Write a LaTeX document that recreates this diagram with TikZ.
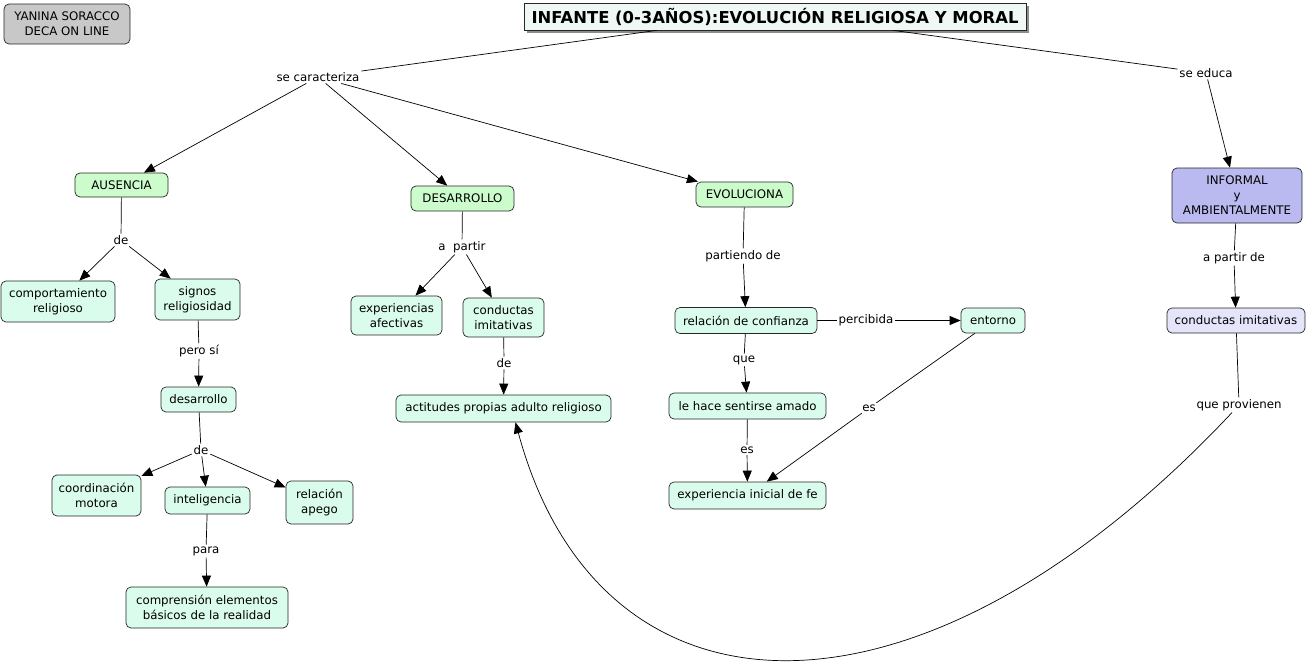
\documentclass[tikz,border=0pt]{standalone}
\usepackage{fontspec}
\setmainfont{DejaVu Sans}
\usetikzlibrary{positioning}
\usetikzlibrary{calc,arrows.meta,shadows}

\definecolor{verdeConc}{RGB}{204,252,204}
\definecolor{mentaConc}{RGB}{218,252,236}
\definecolor{lilaConc}{RGB}{186,186,240}
\definecolor{lilaClaro}{RGB}{228,228,250}
\definecolor{grisAutor}{RGB}{200,200,200}
\definecolor{fondoTitulo}{RGB}{240,248,246}

\tikzset{
	concepto/.style={draw=black!85, rounded corners=5pt, fill=mentaConc, align=center,
		inner sep=0pt, font=\fontsize{11.8}{15}\selectfont},
	principal/.style={concepto, fill=verdeConc},
	enlace/.style={inner sep=1.5pt, font=\fontsize{11.8}{15}\selectfont},
	flecha/.style={-{Triangle[length=11pt,width=9pt]}},
}

\begin{document}
\begin{tikzpicture}[x=1pt, y=-1pt, line width=0.7pt]
		
		% ---------------------
		% Proper size --- Bounding box
		\useasboundingbox (0,0) rectangle (1308,664);
		
		% ---------------------
		% Author & title
		\node[concepto, fill=grisAutor, minimum width=126pt, minimum height=40pt] (Autor) at (67,24) {YANINA SORACCO\\DECA ON LINE};
		\node[draw=black!85, fill=fondoTitulo, inner sep=0pt, minimum width=502pt, minimum height=27pt,
			drop shadow={shadow xshift=3pt, shadow yshift=-3pt, fill=black!45, opacity=1},
			font=\fontsize{16.4}{18}\selectfont\bfseries] (Titulo) at (775,16.5)
			{INFANTE (0-3AÑOS):EVOLUCIÓN RELIGIOSA Y MORAL};
		
		% ---------------------
		% First level
		\node[principal, minimum width=93pt, minimum height=24pt]  (Ausencia)   at (121.5,185) {AUSENCIA};
		\node[principal, minimum width=103pt, minimum height=25pt] (Desarrollo) at (462.5,198.5) {DESARROLLO};
		\node[principal, minimum width=97pt, minimum height=25pt]  (Evoluciona) at (744.5,194.5) {EVOLUCIONA};
		\node[concepto, fill=lilaConc, minimum width=130pt, minimum height=55pt] (Informal) at (1237,195.5) {INFORMAL\\y\\AMBIENTALMENTE};
		
		% ---------------------
		% AUSENCIA branch
		\node[concepto, minimum width=114pt, minimum height=41pt] (Comport) at (58,301.5) {comportamiento\\religioso};
		\node[concepto, minimum width=85pt, minimum height=41pt]  (Signos)  at (197.5,299.5) {signos\\religiosidad};
		\node[concepto, minimum width=75pt, minimum height=25pt]  (DesMin)  at (198.5,399.5) {desarrollo};
		\node[concepto, minimum width=89pt, minimum height=41pt]  (Coord)   at (96.5,495.5) {coordinación\\motora};
		\node[concepto, minimum width=85pt, minimum height=27pt]  (Intel)   at (207.5,500.5) {inteligencia};
		\node[concepto, minimum width=67pt, minimum height=43pt]  (Apego)   at (319.5,502.5) {relación\\apego};
		\node[concepto, minimum width=162pt, minimum height=41pt] (Compren) at (207,607.5) {comprensión elementos\\básicos de la realidad};
		
		% ---------------------
		% DESARROLLO branch
		\node[concepto, minimum width=91pt, minimum height=39pt]  (Experien)  at (396.5,315.5) {experiencias\\afectivas};
		\node[concepto, minimum width=81pt, minimum height=39pt]  (Conductas) at (503.5,317.5) {conductas\\imitativas};
		\node[concepto, minimum width=215pt, minimum height=27pt] (Actitudes) at (503.5,408.5) {actitudes propias adulto religioso};
		
		% ---------------------
		% EVOLUCIONA branch
		\node[concepto, minimum width=142pt, minimum height=26pt] (Confianza) at (746,320.5) {relación de confianza};
		\node[concepto, minimum width=64pt, minimum height=25pt]  (Entorno)   at (993,320.5) {entorno};
		\node[concepto, minimum width=157pt, minimum height=26pt] (Amado)     at (747.5,406) {le hace sentirse amado};
		\node[concepto, minimum width=157pt, minimum height=27pt] (Fe)        at (747.5,495.5) {experiencia inicial de fe};
		
		% ---------------------
		% INFORMAL branch
		\node[concepto, fill=lilaClaro, minimum width=138pt, minimum height=25pt] (Imitat) at (1236,320.5) {conductas imitativas};
		
		% ---------------------
		% Linking phrases
		\node[enlace] (SeCar)     at (318,77)  {se caracteriza};
		\node[enlace] (SeEduca)   at (1206,73) {se educa};
		\node[enlace] (DeA)       at (121,240) {de};
		\node[enlace] (PeroSi)    at (199,351) {pero sí};
		\node[enlace] (DeB)       at (201,450) {de};
		\node[enlace] (Para)      at (206,551) {para};
		\node[enlace] (APartir)   at (462,247) {a\ \ partir};
		\node[enlace] (DeC)       at (504,363) {de};
		\node[enlace] (Partiendo) at (743,256) {partiendo de};
		\node[enlace] (Percibida) at (866,320.5) {percibida};
		\node[enlace] (Que)       at (744,360) {que};
		\node[enlace] (EsA)       at (747,450) {es};
		\node[enlace] (EsB)       at (869,408) {es};
		\node[enlace] (APartirDe) at (1234,258) {a partir de};
		\node[enlace] (Provienen) at (1239,405) {que provienen};
		
		% ---------------------
		% Connectors
		\draw ([xshift=-118pt]Titulo.south) -- (SeCar);
		\draw ([xshift=118pt]Titulo.south) -- (SeEduca);
		\draw[flecha] (SeCar) -- (Ausencia);
		\draw[flecha] (SeCar) -- (Desarrollo);
		\draw[flecha] (SeCar) -- (Evoluciona);
		\draw[flecha] (SeEduca) -- (Informal);
		
		\draw (Ausencia) -- (DeA);
		\draw[flecha] (DeA) -- (Comport);
		\draw[flecha] (DeA) -- (Signos);
		\draw (Signos) -- (PeroSi);
		\draw[flecha] (PeroSi) -- (DesMin);
		\draw (DesMin) -- (DeB);
		\draw[flecha] (DeB) -- (Coord);
		\draw[flecha] (DeB) -- (Intel);
		\draw[flecha] (DeB) -- (Apego);
		\draw (Intel) -- (Para);
		\draw[flecha] (Para) -- (Compren);
		
		\draw (Desarrollo) -- (APartir);
		\draw[flecha] (APartir) -- (Experien);
		\draw[flecha] (APartir) -- (Conductas);
		\draw (Conductas) -- (DeC);
		\draw[flecha] (DeC) -- (Actitudes);
		
		\draw (Evoluciona) -- (Partiendo);
		\draw[flecha] (Partiendo) -- (Confianza);
		\draw (Confianza) -- (Percibida);
		\draw[flecha] (Percibida) -- (Entorno);
		\draw (Confianza) -- (Que);
		\draw[flecha] (Que) -- (Amado);
		\draw (Amado) -- (EsA);
		\draw[flecha] (EsA) -- (Fe);
		\draw (Entorno) -- (EsB);
		\draw[flecha] (EsB) -- (Fe);
		
		\draw (Informal) -- (APartirDe);
		\draw[flecha] (APartirDe) -- (Imitat);
		\draw (Imitat) -- (Provienen);
		\draw[flecha] ([xshift=-7pt]Provienen.south) .. controls (920,745) and (600,735) .. ([xshift=12pt]Actitudes.south);
		
\end{tikzpicture}
\end{document}
